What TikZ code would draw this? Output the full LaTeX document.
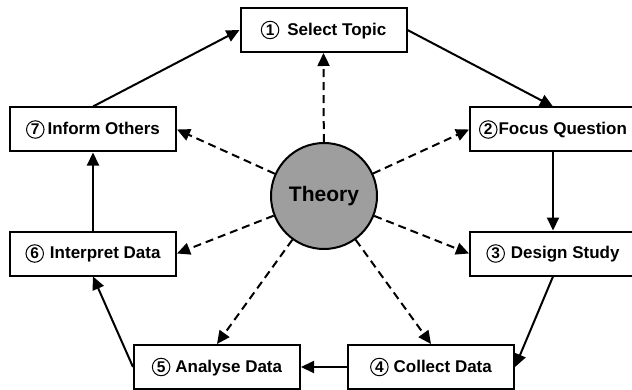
\documentclass[tikz,border=0pt]{standalone}
\usepackage{fontspec}
\setmainfont{Liberation Sans}
\usetikzlibrary{positioning,arrows.meta}

% small circled step number, set inline with the box text
\newcommand{\cnum}[1]{\tikz[baseline=(cn.base)]\node[draw, circle, line width=1pt, inner sep=0pt, minimum size=17.5pt, font=\fontsize{15.5}{16}\selectfont\bfseries] (cn) {#1};}

\begin{document}
\begin{tikzpicture}[
  x=1pt, y=1pt,
  font=\fontsize{17}{20}\selectfont\bfseries,
  node distance=78pt and 46pt,
  stepbox/.style={draw, line width=2pt, minimum width=166pt, minimum height=44pt, inner sep=2pt},
  hub/.style={draw, circle, line width=2pt, fill=black!38, minimum size=106pt, font=\fontsize{21}{24}\selectfont\bfseries},
  arr/.style={-{Triangle[length=13pt,width=12pt]}, line width=2pt},
  darr/.style={arr, dash pattern=on 8pt off 5pt},
]
\useasboundingbox (0,0) rectangle (632,389);

% ---- centre ----
\node[hub] (theory) at (324,193) {Theory};

% ---- the seven steps ----
\node[stepbox] (select) at (323.5,359) {\cnum{1}\hspace{8pt}Select Topic};
\node[stepbox] (focus) at (553,259.5) {\cnum{2}\hspace{1pt}Focus Question};
\node[stepbox, below=of focus] (design) {\cnum{3}\hspace{6pt}Design Study};
\node[stepbox] (analyse) at (217,22) {\cnum{5}\hspace{5pt}Analyse Data};
\node[stepbox, right=of analyse] (collect) {\cnum{4}\hspace{5pt}Collect Data};
\node[stepbox] (inform) at (93,259.5) {\cnum{7}\hspace{3pt}Inform Others};
\node[stepbox, below=of inform] (interp) {\cnum{6}\hspace{6pt}Interpret Data};

% ---- cycle ----
\draw[arr] (inform.north) -- (select.west);
\draw[arr] (select.east) -- (focus.north);
\draw[arr] (focus) -- (design);
\draw[arr] (design.south) -- (collect.east);
\draw[arr] (collect) -- (analyse);
\draw[arr] (analyse.west) -- (interp.south);
\draw[arr] (interp) -- (inform);

% ---- theory feeds every step ----
\draw[darr] (theory) -- (select.south);
\draw[darr] (theory) -- (focus.west);
\draw[darr] (theory) -- (design.west);
\draw[darr] (theory) -- (collect.north);
\draw[darr] (theory) -- (analyse.north);
\draw[darr] (theory) -- (interp.east);
\draw[darr] (theory) -- (inform.east);

\end{tikzpicture}
\end{document}
